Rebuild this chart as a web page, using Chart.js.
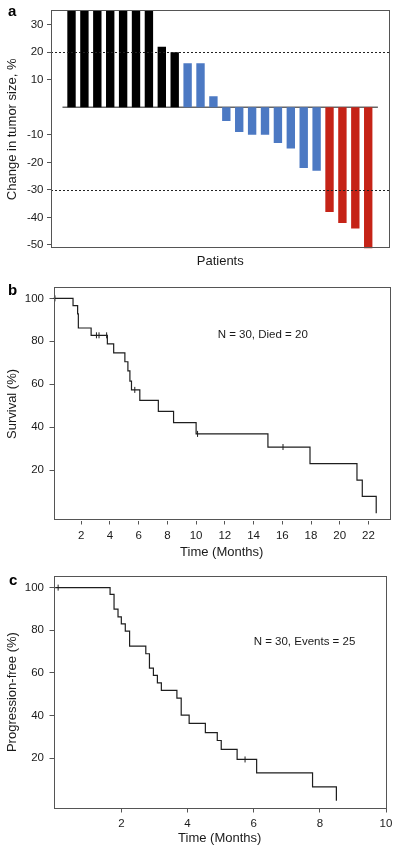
<!DOCTYPE html>
<html>
<head>
<meta charset="utf-8">
<script src="https://cdn.jsdelivr.net/npm/chart.js@4.4.1/dist/chart.umd.min.js"></script>
<style>
  html, body { margin: 0; padding: 0; background: #fff; }
  #wrap { position: relative; width: 400px; height: 853px; }
  canvas { position: absolute; left: 0; }
</style>
</head>
<body>
<div id="wrap">
  <canvas id="tumor" width="400" height="275" style="top:0"></canvas>
  <canvas id="survival" width="400" height="285" style="top:275px"></canvas>
  <canvas id="pfs" width="400" height="293" style="top:560px"></canvas>
</div>
<script>
// a: best change in tumor size per patient (first 7 bars run off the top)
const patients = [1, 2, 3, 4, 5, 6, 7, 8, 9, 10, 11, 12, 13, 14, 15, 16, 17, 18, 19, 20, 21, 22, 23, 24];
const tumorChange = [40, 40, 40, 40, 40, 40, 40, 22, 20, 16, 16, 4, -5, -9, -10, -10, -13, -15, -22, -23, -38, -42, -44, -52];
const tumorTicks = [30, 20, 10, -10, -20, -30, -40, -50];
const cutoffs = [20, -30];
const zeroSpan = [0.3, 24.75];

// b: overall survival, value after each drop
const osMonths = [0, 1.43, 1.75, 1.8, 2.69, 3.82, 4.26, 5.04, 5.25, 5.39, 5.5, 6.08, 7.37, 8.43, 10.0, 15.0, 17.93, 21.2, 21.57, 22.54];
const osSurvival = [100, 96.6, 92.8, 86.2, 82.8, 78.8, 74.6, 70.5, 66.2, 61.5, 57.4, 52.5, 47.4, 42.2, 36.9, 30.8, 23.1, 15.4, 7.8, 0];
const osCensorMonths = [0.17, 3.06, 3.24, 3.77, 5.73, 10.1, 16.05];
const osCensorSurvival = [100, 82.8, 82.8, 82.8, 57.4, 36.9, 30.8];
const osTicksX = [2, 4, 6, 8, 10, 12, 14, 16, 18, 20, 22];

// c: progression-free survival
const pfsMonths = [0, 1.66, 1.78, 1.9, 2.0, 2.12, 2.25, 2.74, 2.85, 2.97, 3.09, 3.21, 3.68, 3.81, 4.05, 4.54, 4.9, 5.02, 5.5, 6.09, 7.78, 8.5];
const pfsFree = [100, 96.8, 89.9, 86.3, 83.0, 79.6, 72.6, 69.0, 62.2, 58.8, 55.3, 51.8, 48.2, 40.2, 36.3, 32.0, 28.3, 24.1, 19.4, 13.1, 6.5, 0];
const pfsCensorMonths = [0.09, 5.74];
const pfsCensorFree = [100, 19.4];
const pfsTicksX = [2, 4, 6, 8, 10];

const kmTicksY = [20, 40, 60, 80, 100];

const FONT = '"Liberation Sans", Arial, Helvetica, sans-serif';
Chart.defaults.font.family = FONT;
Chart.defaults.color = '#1a1a1a';
Chart.defaults.animation = false;

const BOX = '#555';

function fixedTicks(values) {
  return scale => { scale.ticks = values.map(v => ({ value: v })); };
}

function barColor(v) {
  if (v >= 20) return '#000000';
  if (v <= -30) return '#c52317';
  return '#4c79c3';
}

// box round the plot area
const frame = {
  id: 'frame',
  afterDraw(chart) {
    const { ctx, chartArea: a } = chart;
    ctx.save();
    ctx.strokeStyle = BOX;
    ctx.lineWidth = 1;
    ctx.strokeRect(Math.round(a.left) + 0.5, Math.round(a.top) + 0.5,
      Math.round(a.right - a.left) - 1, Math.round(a.bottom - a.top) - 1);
    ctx.restore();
  }
};

// panel letter and the N = ... note
const panelText = {
  id: 'panelText',
  afterDraw(chart, args, o) {
    const ctx = chart.ctx;
    ctx.save();
    ctx.fillStyle = '#000';
    ctx.font = 'bold 15px ' + FONT;
    ctx.textBaseline = 'alphabetic';
    ctx.fillText(o.letter, o.lx, o.ly);
    if (o.note) {
      ctx.font = '11.5px ' + FONT;
      ctx.textBaseline = 'middle';
      ctx.fillStyle = '#1a1a1a';
      ctx.fillText(o.note, chart.scales.x.getPixelForValue(o.noteX), chart.scales.y.getPixelForValue(o.noteY));
    }
    ctx.restore();
  }
};

// dashed 20 / -30 lines
const cutoffLines = {
  id: 'cutoffLines',
  afterDatasetsDraw(chart) {
    const { ctx, chartArea: a, scales } = chart;
    ctx.save();
    ctx.strokeStyle = '#222';
    ctx.lineWidth = 1;
    ctx.setLineDash([2, 2]);
    cutoffs.forEach(v => {
      const y = Math.round(scales.y.getPixelForValue(v)) + 0.5;
      ctx.beginPath();
      ctx.moveTo(a.left, y);
      ctx.lineTo(a.right, y);
      ctx.stroke();
    });
    ctx.restore();
  }
};

function yAxis(min, max, ticks, title, width, titlePad, tickPad) {
  return {
    min: min,
    max: max,
    afterBuildTicks: fixedTicks(ticks),
    afterFit: s => { s.width = width; },
    grid: { drawOnChartArea: false, drawTicks: true, tickLength: 4, tickColor: BOX },
    border: { display: false },
    ticks: { font: { size: 11.5 }, padding: tickPad, autoSkip: false },
    title: { display: true, text: title, font: { size: 13 }, color: '#1a1a1a', padding: { top: titlePad, bottom: 0 } }
  };
}

function xAxis(min, max, ticks, title, height, titlePad) {
  return {
    type: 'linear',
    min: min,
    max: max,
    afterBuildTicks: fixedTicks(ticks),
    afterFit: s => { s.height = height; },
    grid: { drawOnChartArea: false, drawTicks: true, tickLength: 4, tickColor: BOX },
    border: { display: false },
    ticks: { font: { size: 11.5 }, padding: 4.5, maxRotation: 0, autoSkip: false },
    title: { display: true, text: title, font: { size: 13 }, color: '#1a1a1a', padding: { top: 0, bottom: titlePad } }
  };
}

function kmDatasets(times, values, censorTimes, censorValues) {
  return [
    {
      data: times.map((t, i) => ({ x: t, y: values[i] })),
      stepped: true,
      borderColor: '#1e1e1e',
      borderWidth: 1.2,
      pointRadius: 0,
      fill: false
    },
    {
      data: censorTimes.map((t, i) => ({ x: t, y: censorValues[i] })),
      showLine: false,
      pointStyle: 'line',
      rotation: 90,
      pointRadius: 3,
      borderColor: '#1e1e1e',
      borderWidth: 1
    }
  ];
}

// a
new Chart(document.getElementById('tumor'), {
  type: 'bar',
  data: {
    datasets: [
      {
        type: 'bar',
        data: patients.map((p, i) => ({ x: p, y: tumorChange[i] })),
        backgroundColor: tumorChange.map(barColor),
        barPercentage: 0.65,
        categoryPercentage: 1
      },
      {
        type: 'line',
        data: zeroSpan.map(x => ({ x: x, y: 0 })),
        borderColor: '#666',
        borderWidth: 1.5,
        pointRadius: 0
      }
    ]
  },
  options: {
    responsive: false,
    layout: { padding: { top: 8.3, right: 10.5, bottom: 0, left: 0 } },
    plugins: {
      legend: { display: false },
      tooltip: { enabled: false },
      panelText: { letter: 'a', lx: 8, ly: 16 }
    },
    scales: {
      x: {
        type: 'linear',
        offset: false,
        min: -0.59,
        max: 25.65,
        afterBuildTicks: fixedTicks(patients),
        afterFit: s => { s.height = 26.7; },
        ticks: { display: false },
        grid: { display: false },
        border: { display: false },
        title: { display: true, text: 'Patients', font: { size: 13 }, color: '#1a1a1a', padding: { top: 0, bottom: 6.2 } }
      },
      y: yAxis(-51.2, 35.2, tumorTicks, 'Change in tumor size, %', 51, 4.7, 3.5)
    }
  },
  plugins: [frame, panelText, cutoffLines]
});

// b
new Chart(document.getElementById('survival'), {
  type: 'line',
  data: { datasets: kmDatasets(osMonths, osSurvival, osCensorMonths, osCensorSurvival) },
  options: {
    responsive: false,
    layout: { padding: { top: 10, right: 10, bottom: 0, left: 0 } },
    plugins: {
      legend: { display: false },
      tooltip: { enabled: false },
      panelText: { letter: 'b', lx: 8, ly: 20, note: 'N = 30, Died = 20', noteX: 11.5, noteY: 83 }
    },
    scales: {
      x: xAxis(0.07, 23.5, osTicksX, 'Time (Months)', 39.5, 0),
      y: yAxis(-3.4, 105.1, kmTicksY, 'Survival (%)', 53.5, 5, 5.5)
    }
  },
  plugins: [frame, panelText]
});

// c
new Chart(document.getElementById('pfs'), {
  type: 'line',
  data: { datasets: kmDatasets(pfsMonths, pfsFree, pfsCensorMonths, pfsCensorFree) },
  options: {
    responsive: false,
    layout: { padding: { top: 15.7, right: 14, bottom: 0, left: 0 } },
    plugins: {
      legend: { display: false },
      tooltip: { enabled: false },
      panelText: { letter: 'c', lx: 9, ly: 25, note: 'N = 30, Events = 25', noteX: 6.0, noteY: 74.6 }
    },
    scales: {
      x: xAxis(-0.05, 10, pfsTicksX, 'Time (Months)', 44.5, 7.2),
      y: yAxis(-3.6, 105.6, kmTicksY, 'Progression-free (%)', 53.5, 5, 5.5)
    }
  },
  plugins: [frame, panelText]
});
</script>
</body>
</html>
